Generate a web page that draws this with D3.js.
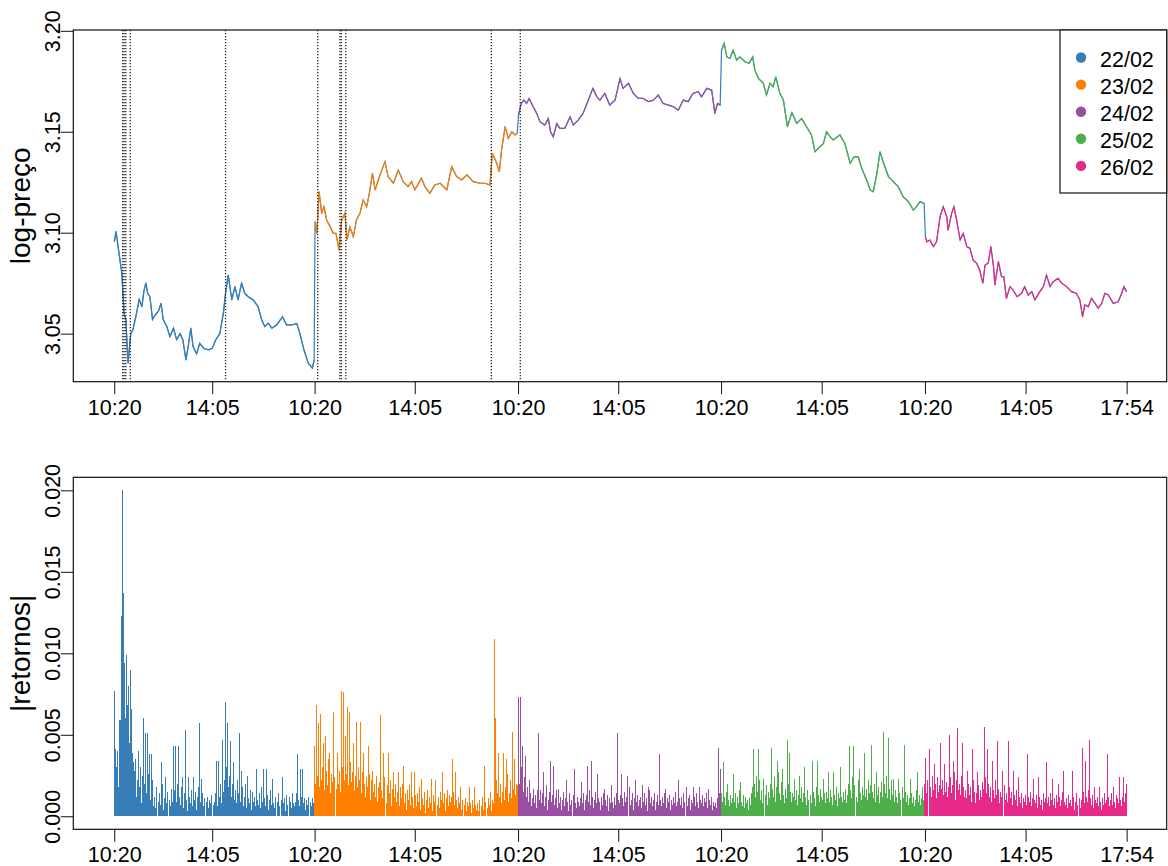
<!DOCTYPE html>
<html>
<head>
<meta charset="utf-8">
<script src="https://cdn.jsdelivr.net/npm/d3@7"></script>
<style>
  html, body { margin: 0; padding: 0; background: #fff; }
  svg { display: block; font-family: "Liberation Sans", Arial, Helvetica, sans-serif; }
</style>
</head>
<body>
<svg id="chart" width="1168" height="866"></svg>
<script>
// ---- days ----
const dayLabels = ["22/02", "23/02", "24/02", "25/02", "26/02"];
const dayColors = ["#377EB8", "#FF7F00", "#984EA3", "#4DAF4A", "#E7298A"];
// observation index of the first trade of each day, and of the last trade overall
const dayStarts = [0, 450, 907, 1363, 1821];
const lastObs = 2274;

// ---- x axis ----
const tickObs = [0, 220, 450, 675, 907, 1132, 1363, 1589, 1821, 2047, 2274];
const tickLabels = ["10:20", "14:05", "10:20", "14:05", "10:20", "14:05", "10:20", "14:05", "10:20", "14:05", "17:54"];

// observations flagged as jumps (dotted verticals)
const jumpObs = [19, 22, 26, 36, 250, 457, 507, 510, 520, 847, 912];

// ---- y ticks ----
const priceTicks = [3.05, 3.10, 3.15, 3.20];
const retTicks = [0, 0.005, 0.010, 0.015, 0.020];

// ---- log-price, [observation, value] ----
const price22 = [[0,3.0955],[4,3.1005],[9,3.0924],[17,3.080],[22,3.060],[26,3.057],[31,3.0355],[37,3.050],[42,3.052],[50,3.060],[56,3.067],[62,3.0634],[67,3.0716],[71,3.075],[75,3.070],[80,3.0683],[86,3.057],[91,3.059],[99,3.061],[105,3.065],[110,3.057],[118,3.0535],[125,3.0485],[133,3.0527],[140,3.047],[148,3.050],[154,3.047],[161,3.037],[166,3.0436],[172,3.0527],[177,3.0436],[185,3.040],[192,3.0452],[201,3.0427],[211,3.042],[220,3.0427],[228,3.047],[237,3.050],[245,3.060],[250,3.070],[256,3.079],[264,3.0667],[271,3.0733],[278,3.0667],[286,3.075],[293,3.070],[301,3.0683],[312,3.0667],[323,3.0634],[331,3.057],[338,3.0535],[346,3.0552],[354,3.0527],[365,3.0543],[378,3.0584],[387,3.0543],[398,3.0543],[410,3.055],[417,3.050],[426,3.042],[436,3.0353],[445,3.0329],[449,3.037]];
const price23 = [[451,3.1055],[455,3.0997],[460,3.1203],[466,3.1096],[471,3.1129],[477,3.1063],[485,3.103],[492,3.0997],[498,3.0997],[505,3.0914],[511,3.1063],[518,3.1096],[523,3.0964],[529,3.103],[537,3.098],[544,3.1063],[552,3.1096],[559,3.1162],[567,3.1129],[573,3.1195],[580,3.1294],[586,3.1212],[593,3.1261],[601,3.131],[608,3.1352],[615,3.1278],[627,3.1245],[638,3.131],[649,3.1253],[660,3.1228],[668,3.1253],[675,3.1212],[690,3.127],[698,3.1228],[709,3.1195],[720,3.1236],[732,3.1245],[747,3.1212],[758,3.1327],[769,3.1278],[780,3.1261],[792,3.1286],[806,3.1253],[821,3.1245],[833,3.1245],[844,3.1236],[849,3.1393],[859,3.1344],[865,3.1302],[870,3.141],[878,3.1525],[885,3.1467],[893,3.150],[900,3.1484],[905,3.1492]];
const price24 = [[908,3.1583],[914,3.164],[920,3.1657],[926,3.164],[932,3.1665],[941,3.1624],[949,3.1591],[956,3.155],[967,3.1533],[975,3.1566],[980,3.150],[986,3.1475],[994,3.1541],[1001,3.1517],[1012,3.1517],[1024,3.1574],[1031,3.1533],[1042,3.1558],[1053,3.1591],[1065,3.1657],[1075,3.1715],[1084,3.1673],[1091,3.1657],[1102,3.169],[1113,3.1632],[1125,3.1657],[1136,3.1764],[1143,3.1715],[1155,3.174],[1166,3.169],[1177,3.1665],[1188,3.1665],[1200,3.1649],[1211,3.1657],[1222,3.1682],[1233,3.164],[1245,3.1632],[1256,3.1624],[1267,3.1607],[1278,3.1657],[1289,3.1649],[1300,3.169],[1312,3.1698],[1319,3.1673],[1331,3.1715],[1342,3.1706],[1349,3.1591],[1355,3.164],[1361,3.1632]];
const price25 = [[1364,3.1904],[1370,3.1938],[1376,3.1871],[1383,3.1863],[1390,3.1904],[1398,3.1855],[1405,3.1871],[1417,3.1847],[1426,3.1839],[1434,3.1871],[1439,3.1805],[1447,3.1764],[1458,3.174],[1465,3.1682],[1473,3.174],[1480,3.1723],[1486,3.1772],[1495,3.169],[1503,3.1657],[1512,3.1525],[1522,3.1595],[1533,3.1541],[1544,3.1566],[1555,3.1525],[1566,3.1484],[1574,3.1401],[1585,3.1426],[1593,3.1442],[1600,3.150],[1608,3.1475],[1615,3.1459],[1630,3.1484],[1641,3.1442],[1653,3.1344],[1662,3.1376],[1671,3.1376],[1679,3.1319],[1690,3.1261],[1698,3.1212],[1705,3.1203],[1713,3.1294],[1720,3.1401],[1728,3.1344],[1739,3.1278],[1750,3.1253],[1761,3.1228],[1772,3.1178],[1784,3.1154],[1795,3.1112],[1802,3.1129],[1810,3.1154],[1819,3.1145]];
const price26 = [[1822,3.098],[1825,3.0955],[1832,3.0964],[1840,3.0931],[1847,3.0955],[1855,3.1079],[1862,3.1129],[1870,3.1079],[1873,3.1013],[1881,3.1096],[1886,3.1129],[1892,3.1063],[1900,3.0964],[1907,3.0997],[1915,3.0931],[1922,3.0923],[1929,3.0865],[1937,3.0849],[1944,3.0815],[1951,3.075],[1956,3.084],[1963,3.0849],[1969,3.0931],[1975,3.0832],[1978,3.0741],[1986,3.0857],[1993,3.0782],[1998,3.0782],[2004,3.0675],[2012,3.0733],[2019,3.0716],[2028,3.0683],[2038,3.070],[2045,3.0733],[2053,3.0691],[2061,3.0708],[2068,3.0667],[2079,3.0708],[2087,3.0733],[2094,3.079],[2102,3.0733],[2109,3.0757],[2120,3.0774],[2128,3.075],[2139,3.0733],[2150,3.0708],[2161,3.070],[2169,3.0667],[2175,3.0584],[2180,3.0642],[2188,3.0634],[2195,3.0675],[2203,3.065],[2210,3.0626],[2218,3.065],[2225,3.070],[2233,3.0691],[2244,3.065],[2255,3.0658],[2263,3.070],[2268,3.0733],[2274,3.0708]];

// ---- absolute returns, in units of RET_UNIT, evenly spread over each day ----
const RET_UNIT = 1e-4;
const ret22 = [77,41,30,40,18,59,59,123,200,137,94,60,99,68,80,45,90,66,39,33,
  28,35,12,22,40,18,30,8,25,60,20,51,14,51,26,38,10,38,22,6,
  12,5,18,0,9,14,7,33,20,4,11,24,8,15,0,10,6,17,9,43,
  16,43,9,20,43,12,7,18,24,5,14,53,10,3,24,12,8,16,6,24,
  10,15,4,12,18,57,9,23,14,6,11,0,9,12,5,10,8,13,0,7,
  9,14,34,6,34,12,20,8,47,15,22,70,30,57,18,25,46,12,20,33,
  10,16,8,22,14,51,9,28,18,6,12,20,5,25,11,8,16,4,15,9,
  12,6,29,10,7,14,5,18,9,29,11,6,29,13,4,10,16,7,23,8,
  5,12,0,9,14,6,10,24,8,11,3,13,7,0,12,9,5,14,8,6,
  9,14,38,10,6,29,12,29,8,11,4,10,7,12,0,9,6,11,8,12];
const ret23 = [43,20,68,25,57,18,63,22,30,45,16,49,28,19,35,39,14,26,21,64,
  24,17,39,20,28,15,77,30,76,22,49,26,67,19,64,33,21,27,45,16,
  25,58,18,30,22,58,14,27,39,20,12,24,18,43,26,10,22,28,15,20,
  12,25,9,18,21,62,16,11,39,24,8,19,39,14,22,6,17,27,12,20,
  9,15,27,6,18,11,20,31,8,14,4,16,10,19,7,27,12,5,27,13,
  6,14,9,18,4,23,11,7,15,2,10,16,5,12,8,23,3,13,9,22,
  7,12,5,15,10,27,8,14,3,11,16,6,13,9,12,35,15,7,27,10,
  5,12,8,18,4,10,0,7,11,3,9,6,18,8,2,10,5,18,7,4,
  8,3,10,0,6,12,4,31,9,5,11,7,15,3,10,8,109,60,22,14,
  39,12,20,8,15,39,10,18,35,26,9,14,22,11,52,17,35,13,20,19];
const ret24 = [73,20,73,30,43,15,24,37,12,18,9,22,14,6,11,17,8,13,5,16,
  51,10,16,8,14,27,6,12,19,4,10,15,34,9,13,31,7,11,16,5,
  17,8,12,4,10,15,6,11,22,9,3,14,7,10,13,29,8,5,12,9,
  6,11,21,8,14,4,10,13,31,9,16,7,34,12,5,10,15,8,26,11,
  9,4,12,7,14,17,10,6,13,3,11,8,19,9,5,12,7,14,51,10,
  8,13,26,11,6,15,9,12,25,18,7,10,14,4,11,22,9,13,6,10,
  12,5,19,9,14,7,11,3,18,16,8,12,6,10,14,4,9,13,7,38,
  10,6,12,8,14,17,5,11,9,13,4,10,7,12,8,15,6,9,22,11,
  7,12,5,14,9,18,6,11,13,4,10,8,18,12,6,14,9,5,18,10,
  8,13,6,11,9,14,5,17,10,7,12,4,9,6,8,5,11,42,14,29];
const ret25 = [14,9,33,12,7,15,20,10,6,13,8,11,26,9,14,5,12,8,16,21,
  9,6,13,5,12,8,10,4,11,7,14,18,41,20,12,25,15,41,22,10,
  16,8,23,13,19,7,15,11,20,42,17,12,24,9,18,34,27,14,10,21,
  29,13,8,17,11,47,20,39,15,9,14,12,23,10,16,7,13,25,11,18,
  9,14,30,12,7,16,10,13,8,34,15,11,6,18,34,13,9,17,12,10,
  23,14,8,15,11,27,9,16,12,7,27,13,10,18,6,14,11,30,12,9,
  15,10,17,8,13,20,43,16,11,24,43,19,12,9,22,29,14,10,18,13,
  39,12,17,10,22,14,19,44,15,11,20,9,27,13,18,8,15,21,12,52,
  20,14,25,11,48,17,10,22,13,23,9,16,12,8,23,14,10,18,11,44,
  15,9,13,7,11,23,14,8,12,6,10,16,27,9,13,7,11,18,10,18];
const ret26 = [20,36,14,22,41,18,12,25,16,32,20,11,24,15,19,45,17,22,13,32,
  15,21,12,18,50,24,14,19,34,27,10,22,54,16,20,13,25,45,18,12,
  16,11,28,20,13,18,9,41,22,15,8,14,27,19,10,16,12,21,17,55,
  24,14,41,20,12,18,9,34,16,11,22,13,46,17,8,15,12,28,19,10,
  14,9,46,18,11,15,7,28,13,10,16,6,24,12,8,14,5,11,9,13,
  7,38,12,9,15,6,11,23,10,8,13,5,24,12,7,10,4,14,9,11,
  33,8,12,6,14,10,23,7,11,5,13,9,20,12,6,10,15,28,9,7,
  11,5,13,8,10,6,28,12,4,9,14,7,11,5,10,42,15,8,34,12,
  9,16,47,11,7,13,5,18,10,8,12,6,18,9,4,11,7,14,8,10,
  38,12,6,10,14,7,18,9,5,13,11,8,24,10,6,12,24,9,14,20];

const prices = [price22, price23, price24, price25, price26];
const returns = [ret22, ret23, ret24, ret25, ret26];

// ---- layout ----
const svg = d3.select("#chart");
const font = "'Liberation Sans', Arial, Helvetica, sans-serif";
const left = 73.3, right = 1166.7;
const top1 = { y0: 30, y1: 381.7 };
const top2 = { y0: 477.3, y1: 829.3 };
const tickLen = 12.5;

const x = d3.scaleLinear().domain([-92, 2364]).range([left, right]);
const yP = d3.scaleLinear().domain([3.0262, 3.2004]).range([top1.y1, top1.y0]);
const yR = d3.scaleLinear().domain([-0.0008, 0.0208]).range([top2.y1, top2.y0]);

function frame(p) {
  svg.append("rect")
    .attr("x", left).attr("y", p.y0)
    .attr("width", right - left).attr("height", p.y1 - p.y0)
    .attr("fill", "none").attr("stroke", "#111").attr("stroke-width", 1.2);
}

function xAxis(p) {
  const g = svg.append("g").attr("transform", `translate(0,${p.y1})`)
    .call(d3.axisBottom(x).tickValues(tickObs)
      .tickFormat((d, i) => tickLabels[i]).tickSize(tickLen).tickSizeOuter(0));
  g.select(".domain").remove();
  g.selectAll(".tick line").attr("stroke", "#111");
  g.selectAll(".tick text")
    .attr("y", 33).attr("dy", null)
    .attr("fill", "#000").style("font-size", "21.5px").style("font-family", font);
}

function yAxis(p, scale, ticks, fmt) {
  const g = svg.append("g").attr("transform", `translate(${left},0)`)
    .call(d3.axisLeft(scale).tickValues(ticks).tickFormat(fmt)
      .tickSize(tickLen).tickSizeOuter(0));
  g.select(".domain").remove();
  g.selectAll(".tick line").attr("stroke", "#111");
  g.selectAll(".tick text")
    .attr("transform", "rotate(-90)")
    .attr("x", 0).attr("y", -13.3).attr("dy", null)
    .attr("text-anchor", "middle")
    .attr("fill", "#000").style("font-size", "21.5px").style("font-family", font);
}

function yTitle(p, label) {
  const cy = (p.y0 + p.y1) / 2;
  svg.append("text")
    .attr("transform", `translate(30,${cy}) rotate(-90)`)
    .attr("text-anchor", "middle")
    .style("font-size", "28px").style("font-family", font)
    .attr("fill", "#000").text(label);
}

// ---- top panel: log-price ----
const line = d3.line().x(d => x(d[0])).y(d => yP(d[1]));
const gP = svg.append("g");

// whole series first (overnight gaps stay in the first colour), then each day on top
gP.append("path").datum(prices.flat())
  .attr("d", line).attr("fill", "none")
  .attr("stroke", dayColors[0]).attr("stroke-width", 1.2);
prices.forEach((ds, i) => {
  gP.append("path").datum(ds)
    .attr("d", line).attr("fill", "none")
    .attr("stroke", dayColors[i]).attr("stroke-width", 1.2)
    .attr("stroke-linejoin", "round");
});

// jump markers
svg.append("g").selectAll("line").data(jumpObs).join("line")
  .attr("x1", d => x(d)).attr("x2", d => x(d))
  .attr("y1", top1.y0).attr("y2", top1.y1)
  .attr("stroke", "#222").attr("stroke-width", 1.3)
  .attr("stroke-dasharray", "1.3,1.7");

frame(top1);
xAxis(top1);
yAxis(top1, yP, priceTicks, d3.format(".2f"));
yTitle(top1, "log-preço");

// legend
const leg = svg.append("g");
leg.append("rect")
  .attr("x", 1060).attr("y", top1.y0)
  .attr("width", right - 1060).attr("height", 163)
  .attr("fill", "#fff").attr("stroke", "#111").attr("stroke-width", 1.2);
dayLabels.forEach((lab, i) => {
  const base = 66.7 + i * 27.1;
  leg.append("circle").attr("cx", 1081).attr("cy", base - 9.2).attr("r", 5.2)
    .attr("fill", dayColors[i]);
  leg.append("text").attr("x", 1100).attr("y", base)
    .style("font-size", "21.5px").style("font-family", font)
    .attr("fill", "#000").text(lab);
});

// ---- bottom panel: |returns| as vertical lines ----
const gR = svg.append("g").attr("shape-rendering", "crispEdges");
returns.forEach((vals, i) => {
  const s = dayStarts[i];
  const e = i < dayStarts.length - 1 ? dayStarts[i + 1] - 1 : lastObs;
  const step = (e - s) / (vals.length - 1);
  gR.append("g").selectAll("line").data(vals).join("line")
    .attr("x1", (d, k) => x(s + k * step)).attr("x2", (d, k) => x(s + k * step))
    .attr("y1", yR(0)).attr("y2", d => yR(d * RET_UNIT))
    .attr("stroke", dayColors[i]).attr("stroke-width", 1);
});

frame(top2);
xAxis(top2);
yAxis(top2, yR, retTicks, d3.format(".3f"));
yTitle(top2, "|retornos|");
</script>
</body>
</html>
